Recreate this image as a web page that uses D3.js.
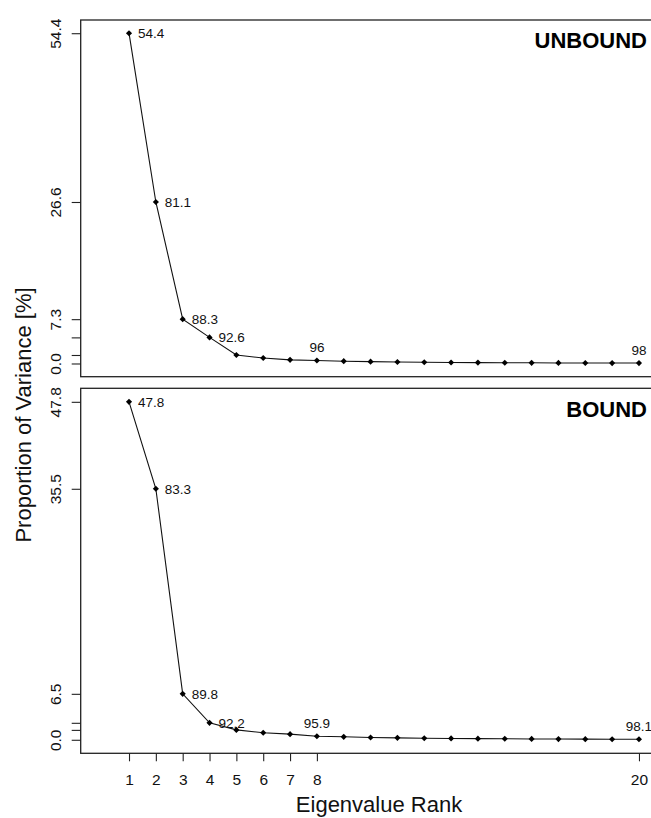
<!DOCTYPE html>
<html>
<head>
<meta charset="utf-8">
<script src="https://cdn.jsdelivr.net/npm/d3@7"></script>
<style>
body{margin:0;background:#fff}
svg{display:block;font-family:"Liberation Sans",Arial,Helvetica,sans-serif}
</style>
</head>
<body>
<div id="chart"></div>
<script>
//DATA
const ranks = [1,2,3,4,5,6,7,8,9,10,11,12,13,14,15,16,17,18,19,20];
const unboundVariance = [54.4, 26.6, 7.3, 4.3, 1.4, 0.9, 0.6, 0.5, 0.38, 0.3, 0.25, 0.2, 0.17, 0.15, 0.13, 0.11, 0.09, 0.08, 0.07, 0.07];
const boundVariance   = [47.8, 35.5, 6.5, 2.4, 1.4, 1.0, 0.8, 0.5, 0.42, 0.33, 0.27, 0.22, 0.19, 0.16, 0.14, 0.12, 0.1, 0.09, 0.08, 0.08];

//cumulative % labels written next to some points
const labelRanks = [1, 2, 3, 4, 8, 20];
const unboundCumLabels = ["54.4", "81.1", "88.3", "92.6", "96", "98"];
const boundCumLabels   = ["47.8", "83.3", "89.8", "92.2", "95.9", "98.1"];

//y ticks (R dropped the labels that would overlap)
const unboundYTicks = [54.4, 26.6, 7.3, 4.3, 1.4, 0];
const unboundYTickLabels = ["54.4", "26.6", "7.3", "", "", "0.0"];
const boundYTicks = [47.8, 35.5, 6.5, 2.4, 1.4, 0];
const boundYTickLabels = ["47.8", "35.5", "6.5", "", "", "0.0"];

const xTicks = [1,2,3,4,5,6,7,8,20];

//LAYOUT AND SIZING
const W = 651, H = 818;
const plotLeft = 80.7;
const xUnit = 26.84;           //px per rank
const panels = [
  {top: 20,    bottom: 376.7, values: unboundVariance, labels: unboundCumLabels, ticks: unboundYTicks, tickLabels: unboundYTickLabels, title: "UNBOUND"},
  {top: 388.3, bottom: 753.3, values: boundVariance,   labels: boundCumLabels,   ticks: boundYTicks,   tickLabels: boundYTickLabels,   title: "BOUND"}
];

//R style 4% axis expansion
const pad = ([a, b]) => [a - (b - a) * 0.04, b + (b - a) * 0.04];

const xDom = pad([0, 20]);
const x = d3.scaleLinear().domain(xDom).range([plotLeft, plotLeft + (xDom[1] - xDom[0]) * xUnit]);

const svg = d3.select("#chart").append("svg")
  .attr("width", W).attr("height", H)
  .attr("viewBox", `0 0 ${W} ${H}`);

const marker = d3.symbol(d3.symbolDiamond2 || d3.symbolDiamond, 24);

function drawPanel(p, isLast){
  const g = svg.append("g");
  const y = d3.scaleLinear().domain(pad([0, d3.max(p.values)])).range([p.bottom, p.top]);
  const pts = ranks.map((r, i) => ({rank: r, v: p.values[i]}));

  //box
  g.append("rect")
    .attr("x", x.range()[0]).attr("y", p.top)
    .attr("width", x.range()[1] - x.range()[0]).attr("height", p.bottom - p.top)
    .attr("fill", "none").attr("stroke", "#222").attr("stroke-width", 1.3);

  //y axis
  const ya = g.append("g").attr("transform", `translate(${plotLeft},0)`)
    .call(d3.axisLeft(y).tickValues(p.ticks).tickSize(9).tickFormat((d, i) => p.tickLabels[i]));
  ya.select(".domain").remove();
  ya.selectAll(".tick line").attr("stroke", "#222").attr("stroke-width", 1.1);
  ya.selectAll(".tick text")
    .attr("transform", "rotate(-90)")
    .attr("x", 0).attr("y", -20).attr("dy", 0)
    .attr("text-anchor", "middle")
    .attr("fill", "#111").style("font-size", "15.5px");

  //line + points
  g.append("path").datum(pts)
    .attr("d", d3.line().x(d => x(d.rank)).y(d => y(d.v)))
    .attr("fill", "none").attr("stroke", "#111").attr("stroke-width", 1.1);

  g.selectAll(".pt").data(pts).join("path")
    .attr("class", "pt")
    .attr("transform", d => `translate(${x(d.rank)},${y(d.v)})`)
    .attr("d", marker)
    .attr("fill", "#000");

  //cumulative labels: right of the first four points, above the others
  labelRanks.forEach((r, i) => {
    const v = p.values[r - 1];
    const right = i < 4;
    g.append("text")
      .attr("x", right ? x(r) + 9 : x(r))
      .attr("y", right ? y(v) : y(v) - 13)
      .attr("dy", "0.35em")
      .attr("text-anchor", right ? "start" : "middle")
      .style("font-size", "13.5px").attr("fill", "#111")
      .text(p.labels[i]);
  });

  //panel title
  g.append("text")
    .attr("x", 647).attr("y", p.top + 28.3)
    .attr("text-anchor", "end")
    .style("font-size", "22px").style("font-weight", "bold")
    .text(p.title);

  if (isLast){
    const xa = g.append("g").attr("transform", `translate(0,${p.bottom})`)
      .call(d3.axisBottom(x).tickValues(xTicks).tickSize(8).tickPadding(13).tickFormat(d3.format("d")));
    xa.select(".domain").remove();
    xa.selectAll(".tick line").attr("stroke", "#222").attr("stroke-width", 1.1);
    xa.selectAll(".tick text").attr("fill", "#111").style("font-size", "15.5px");
  }
}

panels.forEach((p, i) => drawPanel(p, i === panels.length - 1));

//axis titles
svg.append("text")
  .attr("transform", "translate(31,415) rotate(-90)")
  .attr("text-anchor", "middle")
  .style("font-size", "22px").attr("fill", "#111")
  .text("Proportion of Variance [%]");

svg.append("text")
  .attr("x", 379).attr("y", 811.7)
  .attr("text-anchor", "middle")
  .style("font-size", "22px").attr("fill", "#111")
  .text("Eigenvalue Rank");
</script>
</body>
</html>
